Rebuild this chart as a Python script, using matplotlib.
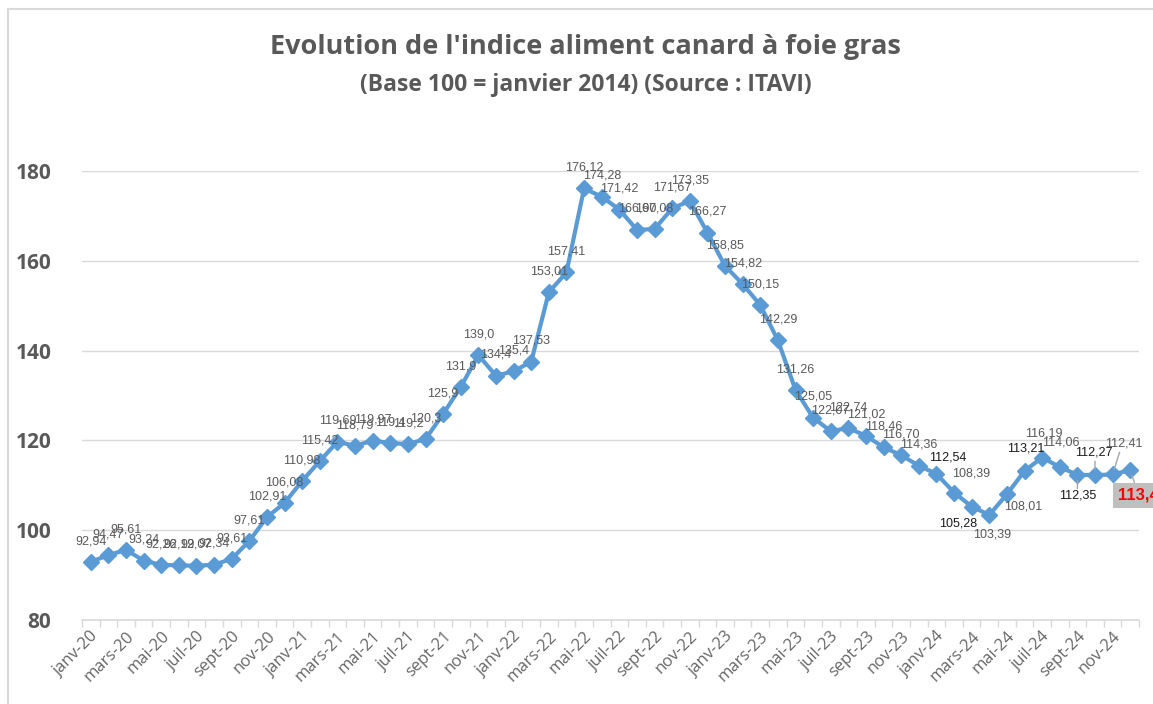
import matplotlib.pyplot as plt
from matplotlib.lines import Line2D

# Monthly index, janv-20 .. dec-24
months_fr = ["janv", "févr", "mars", "avr", "mai", "juin",
             "juil", "août", "sept", "oct", "nov", "déc"]
years = ["20", "21", "22", "23", "24"]
labels = [f"{m}-{y}" for y in years for m in months_fr]

values_2020 = [92.94, 94.47, 95.61, 93.24, 92.26, 92.19, 92.07, 92.34, 93.61, 97.61, 102.91, 106.08]
values_2021 = [110.98, 115.42, 119.69, 118.79, 119.97, 119.4, 119.2, 120.3, 125.9, 131.9, 139.0, 134.4]
values_2022 = [135.4, 137.53, 153.01, 157.41, 176.12, 174.28, 171.42, 166.9, 167.08, 171.67, 173.35, 166.27]
values_2023 = [158.85, 154.82, 150.15, 142.29, 131.26, 125.05, 122.07, 122.74, 121.02, 118.46, 116.70, 114.36]
values_2024 = [112.54, 108.39, 105.28, 103.39, 108.01, 113.21, 116.19, 114.06, 112.35, 112.27, 112.41, 113.4]
values = values_2020 + values_2021 + values_2022 + values_2023 + values_2024

# label text as shown on the chart (keeps the original decimals)
value_text = ["92,94", "94,47", "95,61", "93,24", "92,26", "92,19", "92,07", "92,34", "93,61", "97,61", "102,91", "106,08",
              "110,98", "115,42", "119,69", "118,79", "119,97", "119,4", "119,2", "120,3", "125,9", "131,9", "139,0", "134,4",
              "135,4", "137,53", "153,01", "157,41", "176,12", "174,28", "171,42", "166,90", "167,08", "171,67", "173,35", "166,27",
              "158,85", "154,82", "150,15", "142,29", "131,26", "125,05", "122,07", "122,74", "121,02", "118,46", "116,70", "114,36",
              "112,54", "108,39", "105,28", "103,39", "108,01", "113,21", "116,19", "114,06", "112,35", "112,27", "112,41", "113,4"]

GRAY = "#595959"
DARK = "#1a1a1a"
BLUE = "#5B9BD5"

fig = plt.figure(figsize=(11.53, 7.04), dpi=100)
ax = fig.add_axes([0.0711, 0.1193, 0.9168, 0.6378])

x = list(range(len(values)))
ax.plot(x, values, color=BLUE, lw=3, marker="D", markersize=8, zorder=3)

ax.set_xlim(-0.5, len(values) - 0.5)
ax.set_ylim(80, 180)
ax.set_yticks([80, 100, 120, 140, 160, 180])
ax.tick_params(axis="y", length=0, pad=22, labelsize=15, labelcolor=GRAY)
for t in ax.get_yticklabels():
    t.set_fontweight("bold")
    t.set_fontfamily("Open Sans")

ax.set_xticks(x[::2])
ax.set_xticklabels(labels[::2], rotation=45, ha="right", rotation_mode="anchor",
                   fontsize=12, color="#666666", family="Open Sans")
ax.tick_params(axis="x", which="major", length=0, pad=6)
ax.set_xticks([i - 0.5 for i in range(len(values) + 1)], minor=True)
ax.tick_params(axis="x", which="minor", length=5, color="#d9d9d9", width=1)

ax.grid(axis="y", color="#d9d9d9", lw=1)
ax.set_axisbelow(True)
for side in ["top", "right", "left"]:
    ax.spines[side].set_visible(False)
ax.spines["bottom"].set_color("#d9d9d9")
ax.spines["bottom"].set_linewidth(1.2)

# data labels: default centred above the point; a few moved like the original
special = {
    48: ((8, 12), DARK),
    49: ((12, 14), GRAY),
    50: ((-10, -12), DARK),
    51: ((2, -14), GRAY),
    52: ((12, -9), GRAY),
    53: ((1, 16), DARK),
    54: ((1, 17), GRAY),
    55: ((1, 18), GRAY),
    56: ((0, -15), DARK),
    57: ((-1, 16), DARK),
    58: ((8, 22), GRAY),
}
for i, (v, txt) in enumerate(zip(values, value_text)):
    if i == len(values) - 1:
        continue
    off, col = special.get(i, ((0, 15), GRAY))
    ax.annotate(txt, (i, v), xytext=off, textcoords="offset points",
                ha="center", va="center", fontsize=9, color=col,
                family="Liberation Sans", zorder=4, annotation_clip=False)

# leader lines for the crowded end of the series
for i, (dx, dy) in [(56, (0, -10)), (57, (0, 10)), (58, (5, 16))]:
    ax.annotate("", (i, values[i]), xytext=(dx, dy), textcoords="offset points",
                arrowprops=dict(arrowstyle="-", color="#a6a6a6", lw=1, shrinkA=0, shrinkB=4))

# last value highlighted
last = len(values) - 1
ax.annotate(value_text[last], (last, values[last]), xytext=(6, -18), textcoords="offset points",
            ha="center", va="center", fontsize=12, fontweight="bold", color="red",
            family="Liberation Sans", annotation_clip=False,
            bbox=dict(boxstyle="square,pad=0.3", fc="#bfbfbf", ec="none"),
            arrowprops=dict(arrowstyle="-", color="#a6a6a6", lw=1, shrinkA=0, shrinkB=4))

fig.text(0.508, 0.933, "Evolution de l'indice aliment canard à foie gras",
         ha="center", va="center", fontsize=19.5, fontweight="bold", color=GRAY, family="Open Sans")
fig.text(0.508, 0.879, "(Base 100 = janvier 2014) (Source : ITAVI)",
         ha="center", va="center", fontsize=16.5, fontweight="bold", color=GRAY, family="Open Sans")

# chart area border (top and left edges visible in the original crop)
fig.add_artist(Line2D([0.007, 1.0], [0.987, 0.987], color="#d9d9d9", lw=1.5, transform=fig.transFigure))
fig.add_artist(Line2D([0.007, 0.007], [0.0, 0.987], color="#d9d9d9", lw=1.5, transform=fig.transFigure))

fig.savefig("out.png", dpi=100)
